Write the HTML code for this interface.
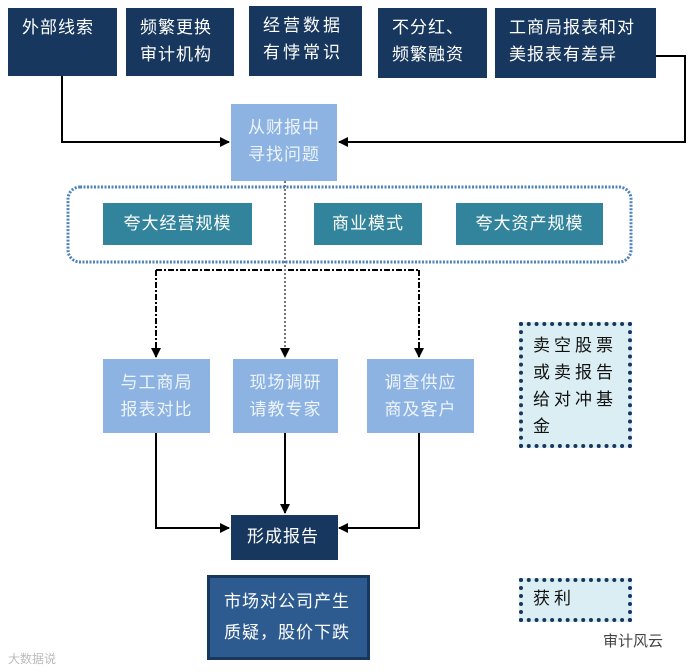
<!DOCTYPE html>
<html><head><meta charset="utf-8"><style>
body{margin:0;width:692px;height:672px;background:#fff;position:relative;overflow:hidden;font-family:"Liberation Sans","Noto Sans CJK SC",sans-serif}
.b{position:absolute;color:#fff;font-size:17px;line-height:27px;box-sizing:border-box;padding:6px 0 0 14px;letter-spacing:1px}
.n{background:#17375e}
.l{background:#8db3e2;text-align:center;padding:10px 0 0 0;color:#eef4fb}
.t{background:#31849b;text-align:center;padding:0;line-height:42px}
.d{background:#dbeef3;border:4px dotted #17375e;color:#111;font-size:17px;line-height:27px;padding:6px 0 0 10px;letter-spacing:4px}
svg{position:absolute;left:0;top:0}
</style></head><body>
<svg width="692" height="672">
<defs><marker id="a" markerWidth="10" markerHeight="10" refX="9" refY="5" orient="auto" markerUnits="userSpaceOnUse"><path d="M0,0 L10,5 L0,10z" fill="#000"/></marker></defs>
<g fill="none" stroke="#000" stroke-width="2">
<path d="M62,76 V142 H229" marker-end="url(#a)"/>
<path d="M656,56 H685 V142 H339" marker-end="url(#a)"/>
<path d="M156,433 V528 H229" marker-end="url(#a)"/>
<path d="M285,433 V513" marker-end="url(#a)"/>
<path d="M419,433 V528 H339" marker-end="url(#a)"/>
<path d="M156,270 H419" stroke-dasharray="6,2,2,2"/>
<path d="M156,270 V357" stroke-dasharray="6,2,2,2" marker-end="url(#a)"/>
<path d="M419,270 V357" stroke-dasharray="6,2,2,2" marker-end="url(#a)"/>
<path d="M285,181 V357" stroke="#777" stroke-dasharray="2,2" marker-end="url(#a)"/>
</g>
<rect x="68" y="187" width="563" height="75" rx="12" fill="none" stroke="#4f81bd" stroke-width="3" stroke-dasharray="2,1.5"/>
</svg>
<div class="b n" style="left:8px;top:8px;width:109px;height:68px">外部线索</div>
<div class="b n" style="left:126px;top:8px;width:108px;height:68px">频繁更换<br>审计机构</div>
<div class="b n" style="left:249px;top:6px;width:113px;height:70px;letter-spacing:3px">经营数据<br>有悖常识</div>
<div class="b n" style="left:378px;top:8px;width:109px;height:70px">不分红、<br>频繁融资</div>
<div class="b n" style="left:495px;top:8px;width:161px;height:70px">工商局报表和对<br>美报表有差异</div>
<div class="b l" style="left:231px;top:104px;width:106px;height:77px">从财报中<br>寻找问题</div>
<div class="b t" style="left:103px;top:203px;width:149px;height:42px">夸大经营规模</div>
<div class="b t" style="left:314px;top:203px;width:108px;height:42px">商业模式</div>
<div class="b t" style="left:456px;top:203px;width:147px;height:42px">夸大资产规模</div>
<div class="b l" style="left:103px;top:359px;width:107px;height:74px">与工商局<br>报表对比</div>
<div class="b l" style="left:233px;top:359px;width:105px;height:74px">现场调研<br>请教专家</div>
<div class="b l" style="left:367px;top:359px;width:107px;height:74px">调查供应<br>商及客户</div>
<div class="b n" style="left:231px;top:515px;width:107px;height:45px;padding:3px 0 0 16px;line-height:38px">形成报告</div>
<div class="b" style="left:207px;top:575px;width:163px;height:85px;background:#2e5b8f;border:3px solid #17375e;padding:8px 0 0 14px;line-height:31px">市场对公司产生<br>质疑，股价下跌</div>
<div class="b d" style="left:519px;top:322px;width:113px;height:126px">卖空股票<br>或卖报告<br>给对冲基<br>金</div>
<div class="b d" style="left:519px;top:578px;width:113px;height:44px;padding-top:3px">获利</div>
<div style="position:absolute;left:603px;top:630px;font-size:15px;color:#444">审计风云</div>
<div style="position:absolute;left:8px;top:650px;font-size:12px;color:#bbb">大数据说</div>
</body></html>
